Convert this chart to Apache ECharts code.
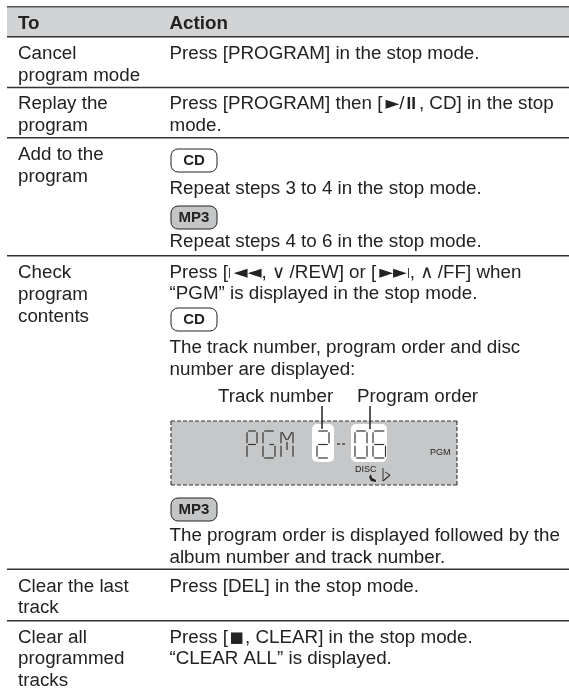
<!DOCTYPE html>
<html><head><meta charset="utf-8">
<style>html,body{margin:0;padding:0;background:#fff}#c{width:569px;height:689px}</style>
<script src="https://cdn.jsdelivr.net/npm/echarts@6/dist/echarts.min.js"></script>
</head><body><div id="c"></div>
<script>
// ---- content ----
const headers = ["To", "Action"];
const toLines = [
  ["Cancel", "program mode"],
  ["Replay the", "program"],
  ["Add to the", "program"],
  ["Check", "program", "contents"],
  ["Clear the last", "track"],
  ["Clear all", "programmed", "tracks"]
];
const actionLines = [
  ["Press [PROGRAM] in the stop mode."],
  ["Press [PROGRAM] then [►/II, CD] in the stop", "mode."],
  ["Repeat steps 3 to 4 in the stop mode.", "Repeat steps 4 to 6 in the stop mode."],
  ["Press [|◄◄, ∨/REW] or [►►|, ∧/FF] when", "“PGM” is displayed in the stop mode.",
   "The track number, program order and disc", "number are displayed:",
   "The program order is displayed followed by the", "album number and track number."],
  ["Press [DEL] in the stop mode."],
  ["Press [■, CLEAR] in the stop mode.", "“CLEAR ALL” is displayed."]
];
const badges = ["CD", "MP3", "CD", "MP3"];
const callouts = ["Track number", "Program order"];
const lcdSmall = ["PGM", "DISC"];

// ---- layout (page space, read through hidden value axes) ----
const W = 569, H = 689, DY = 0.9;
const FS = 18.8, FONT = '"Liberation Sans", Arial, sans-serif', INK = '#222222';
const colX = [18, 169.5];
const ruleY = [36.8, 87.5, 137.7, 255.7, 569.3, 620.7];
const toY = [[53,75],[103,125],[154,176],[272,294,316],[586,607],[637,658,680]];
const actY = [[53],[103,125],[188,241],[272,293,347,369,535,557],[586],[637,658]];
const badgeY = [[149,172],[206,229],[308,331],[498,521]];

const items = [];
const T = (x,y,s,o={}) => items.push({k:'t',x,y:y+DY,s,...o});
const R = (x0,y0,x1,y1,o={}) => items.push({k:'r',x0,y0,x1,y1,...o});
const L = (x0,y0,x1,y1,o={}) => items.push({k:'l',x0,y0,x1,y1,...o});

// header band
R(7,7,W,37,{fill:'#d2d3d4'});
L(7,6.8,W,6.8,{w:1.4,c:'#555'});
headers.forEach((h,i)=>T(colX[i],22.5,h,{b:true}));
ruleY.forEach(y=>L(7,y,W,y,{w:1.4,c:'#333'}));
toLines.forEach((r,i)=>r.forEach((s,j)=>T(colX[0],toY[i][j],s)));
actionLines.forEach((r,i)=>r.forEach((s,j)=>T(colX[1],actY[i][j],s)));
badges.forEach((b,i)=>{
  const [a,c]=badgeY[i], mp3=b==='MP3';
  R(171,a,217,c,{r:7,fill:mp3?'#c4c5c6':'#fff',stroke:'#222',sw:1});
  T(194,(a+c)/2-.3,b,{b:true,a:'center',fs:15});
});
// callouts
T(218,396,callouts[0]); T(357,396,callouts[1]);
// display
R(171,421,457,485,{fill:'#c6c7c8'});
[[171,421,457,421],[171,485,457,485],[171,421,171,485],[457,421,457,485]].forEach(a=>L(a[0],a[1],a[2],a[3],{w:1.1,c:'#333',dash:[4,2]}));
R(312,424,334,462,{r:5,fill:'#fff'});
R(351,424,387,462,{r:5,fill:'#fff'});
L(322,406,322,429,{w:1.5,c:'#222'});
L(370,406,370,429,{w:1.5,c:'#222'});
T(430,452,lcdSmall[0],{fs:9});
T(355,469,lcdSmall[1],{fs:9});
// seven-segment glyphs
const SEG = {a:[0,0,1,0],b:[1,0,1,.5],c:[1,.5,1,1],d:[0,1,1,1],e:[0,.5,0,1],f:[0,0,0,.5],g:[0,.5,1,.5]};
const LC='#333', LW=1.2;
const seg=(x,y,w,h,list)=>list.split('').forEach(n=>{const s=SEG[n];
  const pad=1.2, hor=s[1]===s[3];
  L(x+s[0]*w+(hor?pad:0),y+s[1]*h+(hor?0:pad),x+s[2]*w-(hor?pad:0),y+s[3]*h-(hor?0:pad),{w:LW,c:LC});});
seg(247,431,10,27,'abfeg');        // P
seg(263,431,12,27,'afedc');        // G
L(269.5,444.5,274,444.5,{w:LW,c:LC});
seg(281,431,12,27,'febc');         // M
L(282,432,286.5,440,{w:LW,c:LC}); L(292,432,287.5,440,{w:LW,c:LC});
L(287,442,287,450,{w:LW,c:LC});
seg(317,431,12,27,'abged');        // 2
seg(355,431,12,27,'abcdef');       // 0
seg(373,431,12.5,27,'afgedc');     // 6
L(337,444,340,444,{w:1.3,c:LC}); L(342,444,345,444,{w:1.3,c:LC});
// disc marks
items.push({k:'p',pts:[[371,474],[372,478],[376,480],[376,482],[371,481],[369,477]],fill:'#222'});
L(383,468,383,481,{w:1,c:LC}); L(383,481,390,475,{w:1.2,c:LC}); L(390,475,385,472,{w:1,c:LC});

const richFor = s => s.replace(/[►◄]+|■|[∨∧]|\||II/g, m => {
  const key = /[►◄]/.test(m)?'t':m==='■'?'q':/[∨∧]/.test(m)?'v':m==='|'?'b':'p';
  return '{'+key+'|'+m+'}';
});
const richStyles = {
  t:{fill:INK,font:'18px "DejaVu Sans"',padding:[0,0,0,3]},
  q:{fill:INK,font:'15px "DejaVu Sans"',padding:[0,1.5,0,1.5]},
  v:{fill:INK,font:'18px "DejaVu Sans"',padding:[0,4.5,0,0]},
  b:{fill:INK,font:'11px "Liberation Sans"'},
  p:{fill:INK,font:'bold 17px "Liberation Sans"',padding:[0,3,0,2]}
};
function renderItem(params, api){
  const it = items[params.dataIndex];
  const P=(x,y)=>api.coord([x,y]);
  if(it.k==='t'){
    const p=P(it.x,it.y);
    return {type:'text',x:p[0],y:p[1],style:{text:richFor(it.s),fill:INK,
      font:(it.b?'bold ':'')+(it.fs||FS)+'px '+FONT,textAlign:it.a||'left',textVerticalAlign:'middle',
      rich:richStyles}};
  }
  if(it.k==='r'){
    const a=P(it.x0,it.y0),b=P(it.x1,it.y1);
    return {type:'rect',shape:{x:a[0],y:a[1],width:b[0]-a[0],height:b[1]-a[1],r:it.r||0},
      style:{fill:it.fill,stroke:it.stroke||null,lineWidth:it.sw||0}};
  }
  if(it.k==='p'){
    return {type:'polygon',shape:{points:it.pts.map(q=>P(q[0],q[1]))},style:{fill:it.fill}};
  }
  const a=P(it.x0,it.y0),b=P(it.x1,it.y1);
  return {type:'line',shape:{x1:a[0],y1:a[1],x2:b[0],y2:b[1]},
    style:{stroke:it.c,lineWidth:it.w,lineDash:it.dash||null}};
}
const chart = echarts.init(document.getElementById('c'),null,{renderer:'canvas'});
chart.setOption({
  animation:false,backgroundColor:'#fff',
  grid:{left:0,right:0,top:0,bottom:0},
  xAxis:{type:'value',min:0,max:W,show:false},
  yAxis:{type:'value',min:0,max:H,inverse:true,show:false},
  series:[{type:'custom',coordinateSystem:'cartesian2d',silent:true,clip:false,
    renderItem,data:items.map((_,i)=>[i,i]),encode:{x:0,y:1}}]
});
</script></body></html>
